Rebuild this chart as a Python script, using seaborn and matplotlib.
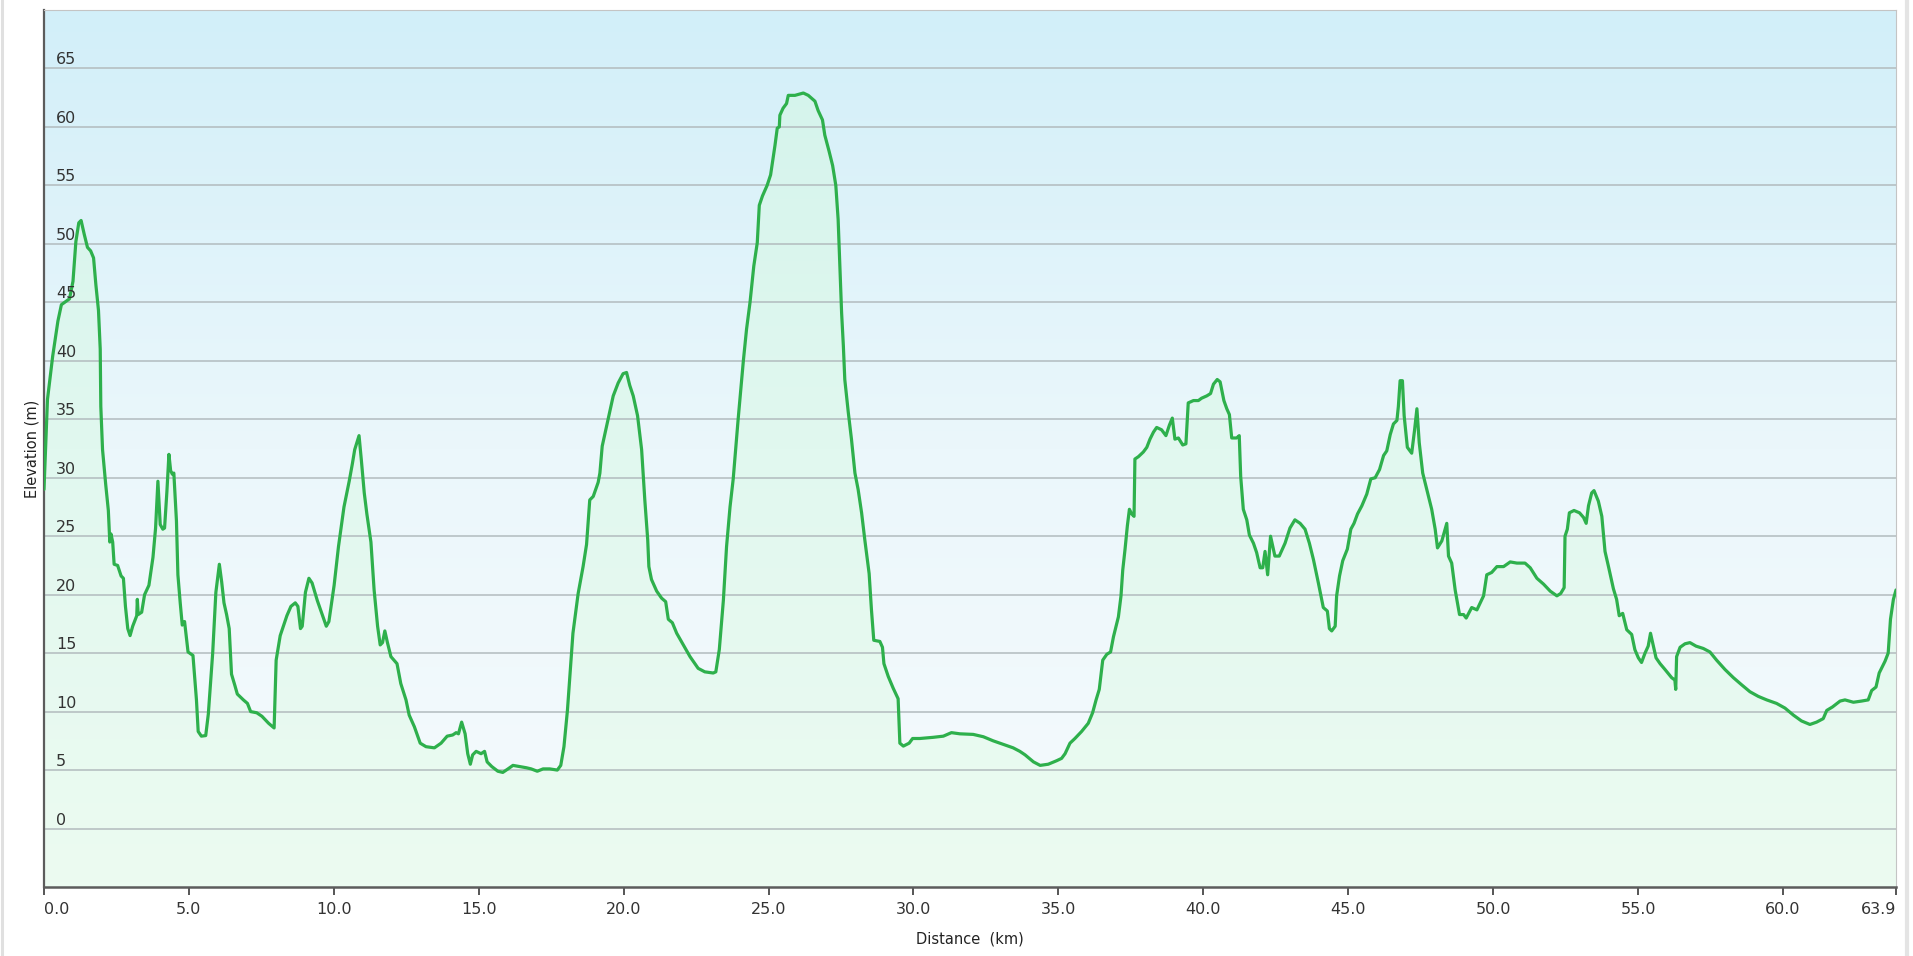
import numpy as np
import matplotlib
matplotlib.use("Agg")
import matplotlib.pyplot as plt
from matplotlib.colors import LinearSegmentedColormap
from matplotlib.lines import Line2D
import seaborn as sns

# elevation profile (km, m)
distance_km = [
    0.0, 0.12, 0.3, 0.48, 0.6, 0.88, 1.0, 1.1, 1.2, 1.28, 1.39, 1.5, 1.61, 1.71, 1.79, 1.88, 1.94, 1.96,
    2.02, 2.13, 2.22, 2.27, 2.31, 2.37, 2.42, 2.54, 2.66, 2.74, 2.81, 2.89, 2.97, 3.06, 3.2, 3.22, 3.25,
    3.37, 3.47, 3.62, 3.76, 3.85, 3.93, 4.01, 4.1, 4.16, 4.24, 4.31, 4.37, 4.43, 4.48, 4.57, 4.62, 4.7,
    4.77, 4.85, 4.97, 5.14, 5.26, 5.32, 5.43, 5.58, 5.67, 5.82, 5.93, 6.05, 6.13, 6.21, 6.3, 6.39, 6.47,
    6.59, 6.67, 6.88, 7.02, 7.13, 7.34, 7.52, 7.75, 7.94, 8.01, 8.15, 8.38, 8.52, 8.67, 8.76, 8.85, 8.91,
    9.02, 9.14, 9.25, 9.43, 9.6, 9.74, 9.83, 10.01, 10.16, 10.35, 10.53, 10.64, 10.72, 10.87, 10.95,
    11.05, 11.14, 11.28, 11.39, 11.51, 11.6, 11.68, 11.76, 11.85, 11.97, 12.18, 12.31, 12.49, 12.6,
    12.78, 12.98, 13.18, 13.47, 13.7, 13.91, 14.1, 14.22, 14.3, 14.41, 14.53, 14.62, 14.71, 14.79,
    14.91, 15.08, 15.2, 15.29, 15.45, 15.66, 15.83, 16.01, 16.18, 16.41, 16.64, 16.81, 17.02, 17.22,
    17.45, 17.71, 17.83, 17.94, 18.06, 18.17, 18.25, 18.43, 18.6, 18.72, 18.83, 18.95, 19.12, 19.18,
    19.26, 19.47, 19.64, 19.81, 19.98, 20.1, 20.21, 20.33, 20.48, 20.62, 20.73, 20.83, 20.87, 20.96,
    21.14, 21.31, 21.45, 21.54, 21.68, 21.83, 22.06, 22.29, 22.57, 22.8, 23.09, 23.18, 23.3, 23.44,
    23.55, 23.67, 23.78, 23.95, 24.13, 24.24, 24.36, 24.49, 24.61, 24.68, 24.79, 24.95, 25.07, 25.22,
    25.3, 25.37, 25.39, 25.5, 25.62, 25.68, 25.91, 26.06, 26.2, 26.37, 26.6, 26.71, 26.86, 26.94,
    27.09, 27.21, 27.32, 27.4, 27.46, 27.52, 27.58, 27.63, 27.75, 27.86, 27.98, 28.09, 28.21, 28.32,
    28.47, 28.55, 28.63, 28.84, 28.93, 28.98, 29.13, 29.3, 29.47, 29.53, 29.65, 29.85, 29.97, 30.22,
    30.68, 31.03, 31.31, 31.6, 32.06, 32.41, 32.75, 33.1, 33.44, 33.67, 33.85, 34.14, 34.37, 34.65,
    34.94, 35.11, 35.23, 35.4, 35.57, 35.8, 36.03, 36.18, 36.3, 36.41, 36.53, 36.67, 36.8, 36.9, 36.99,
    37.07, 37.16, 37.22, 37.3, 37.38, 37.45, 37.53, 37.61, 37.64, 37.76, 37.93, 38.05, 38.16, 38.28,
    38.39, 38.56, 38.71, 38.83, 38.93, 39.02, 39.14, 39.29, 39.4, 39.48, 39.66, 39.83, 39.94, 40.12,
    40.25, 40.35, 40.48, 40.58, 40.71, 40.81, 40.9, 40.98, 41.15, 41.24, 41.29, 41.38, 41.5, 41.59,
    41.73, 41.84, 41.96, 42.05, 42.13, 42.22, 42.32, 42.47, 42.62, 42.82, 42.99, 43.16, 43.34, 43.51,
    43.66, 43.8, 43.97, 44.14, 44.28, 44.35, 44.43, 44.55, 44.6, 44.7, 44.81, 44.97, 45.09, 45.2,
    45.32, 45.47, 45.64, 45.78, 45.93, 46.08, 46.22, 46.33, 46.45, 46.56, 46.68, 46.73, 46.79, 46.87,
    46.93, 47.04, 47.19, 47.29, 47.37, 47.45, 47.57, 47.71, 47.88, 48.0, 48.08, 48.23, 48.4, 48.46,
    48.57, 48.69, 48.84, 48.98, 49.07, 49.26, 49.44, 49.67, 49.78, 49.95, 50.13, 50.36, 50.59, 50.82,
    51.1, 51.28, 51.51, 51.74, 51.97, 52.2, 52.33, 52.45, 52.48, 52.56, 52.63, 52.79, 52.98, 53.12,
    53.21, 53.29, 53.4, 53.48, 53.63, 53.75, 53.86, 53.98, 54.15, 54.26, 54.35, 54.47, 54.61, 54.78,
    54.89, 55.01, 55.12, 55.24, 55.35, 55.43, 55.53, 55.62, 55.76, 55.93, 56.16, 56.27, 56.3, 56.33,
    56.45, 56.62, 56.79, 57.0, 57.25, 57.48, 57.71, 58.0, 58.29, 58.57, 58.86, 59.15, 59.44, 59.78,
    60.07, 60.36, 60.64, 60.93, 61.16, 61.39, 61.51, 61.71, 61.97, 62.14, 62.43, 62.71, 62.94, 63.06,
    63.21, 63.32, 63.52, 63.63, 63.71, 63.81, 63.9,
]
elevation_m = [
    29.0, 36.7, 40.4, 43.4, 44.8, 45.3, 46.8, 50.2, 51.8, 52.0, 50.8, 49.7, 49.4, 48.8, 46.5, 44.3, 41.0, 36.1,
    32.4, 29.4, 27.2, 24.5, 25.2, 24.5, 22.6, 22.5, 21.6, 21.4, 19.0, 17.1, 16.5, 17.3, 18.2, 19.6, 18.3,
    18.5, 20.0, 20.8, 23.2, 25.7, 29.7, 26.0, 25.6, 25.7, 28.8, 32.0, 30.6, 30.3, 30.4, 26.3, 21.7, 19.3,
    17.4, 17.7, 15.1, 14.8, 11.0, 8.3, 7.9, 7.95, 9.8, 15.0, 20.2, 22.6, 21.1, 19.3, 18.3, 17.1, 13.2,
    12.2, 11.5, 11.0, 10.7, 10.0, 9.9, 9.6, 9.0, 8.6, 14.4, 16.5, 18.2, 19.0, 19.3, 19.0, 17.1, 17.3,
    20.2, 21.4, 21.0, 19.5, 18.3, 17.3, 17.7, 20.8, 24.1, 27.5, 29.7, 31.2, 32.4, 33.6, 31.5,
    28.7, 26.9, 24.5, 20.4, 17.3, 15.7, 15.9, 16.9, 15.9, 14.7, 14.1, 12.4, 11.0, 9.7,
    8.7, 7.3, 7.0, 6.9, 7.3, 7.9, 8.0, 8.2, 8.1, 9.1, 8.1, 6.4, 5.5, 6.3,
    6.6, 6.4, 6.6, 5.7, 5.3, 4.9, 4.8, 5.1, 5.4, 5.3, 5.2, 5.1, 4.9, 5.1,
    5.1, 5.0, 5.4, 7.0, 10.1, 13.9, 16.7, 20.1, 22.4, 24.3, 28.1, 28.4, 29.6, 30.4,
    32.7, 35.1, 37.0, 38.1, 38.9, 39.0, 37.9, 37.0, 35.3, 32.4, 28.1, 24.7, 22.4, 21.3,
    20.3, 19.7, 19.4, 17.9, 17.6, 16.7, 15.7, 14.7, 13.7, 13.4, 13.3, 13.4, 15.3, 19.5,
    24.1, 27.5, 29.9, 35.0, 40.0, 42.7, 45.0, 48.1, 50.1, 53.3, 54.1, 55.0, 55.9, 58.4,
    59.9, 60.0, 61.0, 61.6, 62.0, 62.7, 62.7, 62.8, 62.9, 62.7, 62.2, 61.4, 60.6, 59.3,
    57.9, 56.7, 55.0, 52.1, 48.1, 44.1, 41.3, 38.4, 35.6, 33.3, 30.4, 29.0, 27.0, 24.7,
    21.8, 18.7, 16.1, 16.0, 15.5, 14.1, 13.0, 12.0, 11.1, 7.3, 7.05, 7.3, 7.7, 7.7,
    7.8, 7.9, 8.2, 8.1, 8.05, 7.85, 7.5, 7.2, 6.9, 6.6, 6.3, 5.7, 5.4, 5.5,
    5.8, 6.0, 6.4, 7.3, 7.7, 8.3, 9.0, 9.9, 11.0, 11.9, 14.4, 14.9, 15.1, 16.4, 17.3,
    18.1, 19.9, 22.1, 23.9, 25.9, 27.3, 26.9, 26.7, 31.6, 31.8, 32.2, 32.6, 33.3, 33.9,
    34.3, 34.1, 33.6, 34.5, 35.1, 33.3, 33.4, 32.8, 32.9, 36.4, 36.6, 36.6, 36.8, 37.0,
    37.2, 38.0, 38.4, 38.2, 36.6, 35.9, 35.4, 33.4, 33.4, 33.6, 30.1, 27.3, 26.4, 25.1,
    24.4, 23.6, 22.3, 22.3, 23.7, 21.7, 25.0, 23.3, 23.3, 24.4, 25.7, 26.4, 26.1, 25.6,
    24.4, 23.0, 21.0, 18.9, 18.6, 17.1, 16.9, 17.3, 19.9, 21.6, 22.9, 23.9, 25.6, 26.1,
    26.9, 27.6, 28.6, 29.9, 30.0, 30.7, 31.9, 32.3, 33.7, 34.6, 34.9, 36.1, 38.3, 38.3,
    35.3, 32.6, 32.1, 34.1, 35.9, 33.0, 30.4, 29.0, 27.3, 25.6, 24.0, 24.6, 26.1, 23.3,
    22.7, 20.4, 18.3, 18.3, 18.0, 18.9, 18.7, 19.9, 21.7, 21.9, 22.4, 22.4, 22.8, 22.7,
    22.7, 22.3, 21.4, 20.9, 20.3, 19.9, 20.1, 20.6, 25.0, 25.6, 27.0, 27.2, 27.0, 26.6,
    26.1, 27.6, 28.7, 28.9, 28.0, 26.7, 23.7, 22.4, 20.5, 19.6, 18.2, 18.4, 17.0, 16.6,
    15.3, 14.6, 14.2, 15.0, 15.6, 16.7, 15.6, 14.6, 14.1, 13.6, 12.9, 12.7, 11.9, 14.7,
    15.5, 15.8, 15.9, 15.6, 15.4, 15.1, 14.4, 13.6, 12.9, 12.3, 11.7, 11.3, 11.0, 10.7,
    10.3, 9.7, 9.2, 8.9, 9.1, 9.4, 10.1, 10.4, 10.9, 11.0, 10.8, 10.9, 11.0, 11.8,
    12.1, 13.3, 14.3, 15.0, 17.9, 19.6, 20.4,
]

x_ticks = [0, 5, 10, 15, 20, 25, 30, 35, 40, 45, 50, 55, 60, 63.9]
x_tick_labels = ["0.0", "5.0", "10.0", "15.0", "20.0", "25.0", "30.0", "35.0",
                 "40.0", "45.0", "50.0", "55.0", "60.0", "63.9"]
y_ticks = [0, 5, 10, 15, 20, 25, 30, 35, 40, 45, 50, 55, 60, 65]

x_max = 63.9
y_min, y_max = -5, 70

sns.set_style("white")
plt.rcParams["font.family"] = ["DejaVu Sans"]

W, H = 1913, 956
fig = plt.figure(figsize=(W / 100, H / 100), dpi=100)
ax = fig.add_axes([44 / W, 1 - 887 / H, (1896 - 44) / W, (887 - 10) / H])

# background gradient (light blue at top, almost white at bottom)
grad = np.linspace(0, 1, 256).reshape(-1, 1)
bg_cmap = LinearSegmentedColormap.from_list("bg", ["#f6fbfd", "#ebf7fb", "#d2eff9"])
ax.imshow(grad, extent=[0, x_max, y_min, y_max], origin="lower", aspect="auto",
          cmap=bg_cmap, zorder=0, interpolation="bilinear")

# area under the profile, light green gradient clipped to the profile
area = ax.fill_between(distance_km, elevation_m, y_min, facecolor="none", edgecolor="none")
fill_cmap = LinearSegmentedColormap.from_list("fill", ["#ecfbf1", "#e1f8ef", "#d3f3ec"])
fill_img = ax.imshow(grad, extent=[0, x_max, y_min, y_max], origin="lower", aspect="auto",
                     cmap=fill_cmap, zorder=1, interpolation="bilinear")
fill_img.set_clip_path(area.get_paths()[0], transform=ax.transData)

for v in y_ticks:
    ax.axhline(v, color="#b2bbbe", lw=1.1, zorder=1.5)
    ax.text(0.0064, v + 0.34, str(v), transform=ax.get_yaxis_transform(),
            ha="left", va="baseline", fontsize=11.5, color="#333333", zorder=4)

sns.lineplot(x=distance_km, y=elevation_m, ax=ax, color="#2eb04c", lw=2.3,
             estimator=None, sort=False, zorder=3)

ax.set_xlim(0, x_max)
ax.set_ylim(y_min, y_max)

ax.set_xticks(x_ticks)
ax.set_xticklabels(x_tick_labels)
ax.set_yticks([])
ax.tick_params(axis="x", bottom=True, length=6, width=1.4, color="#555555",
               pad=5, labelsize=11.5, labelcolor="#333333")
labels = ax.get_xticklabels()
labels[0].set_horizontalalignment("left")
labels[-1].set_horizontalalignment("right")

ax.set_xlabel("Distance  (km)", fontsize=10.5, color="#222222")
ax.xaxis.set_label_coords(0.5, -0.051)
ax.set_ylabel("Elevation (m)", fontsize=10.5, color="#222222")
ax.yaxis.set_label_coords(-0.0022, 0.5)

ax.spines["left"].set(color="#5c5c5c", lw=1.6)
ax.spines["bottom"].set(color="#5c5c5c", lw=1.8)
ax.spines["top"].set(color="#c4c4c4", lw=0.8)
ax.spines["right"].set(color="#c4c4c4", lw=0.8)

# light outer frame
fig.add_artist(Line2D([1.5 / W, 1.5 / W], [0, 1], transform=fig.transFigure, color="#e0e0e0", lw=2.2))
fig.add_artist(Line2D([1907 / W, 1907 / W], [0, 1], transform=fig.transFigure, color="#e4e4e4", lw=3))

fig.savefig("out.png", dpi=100)
